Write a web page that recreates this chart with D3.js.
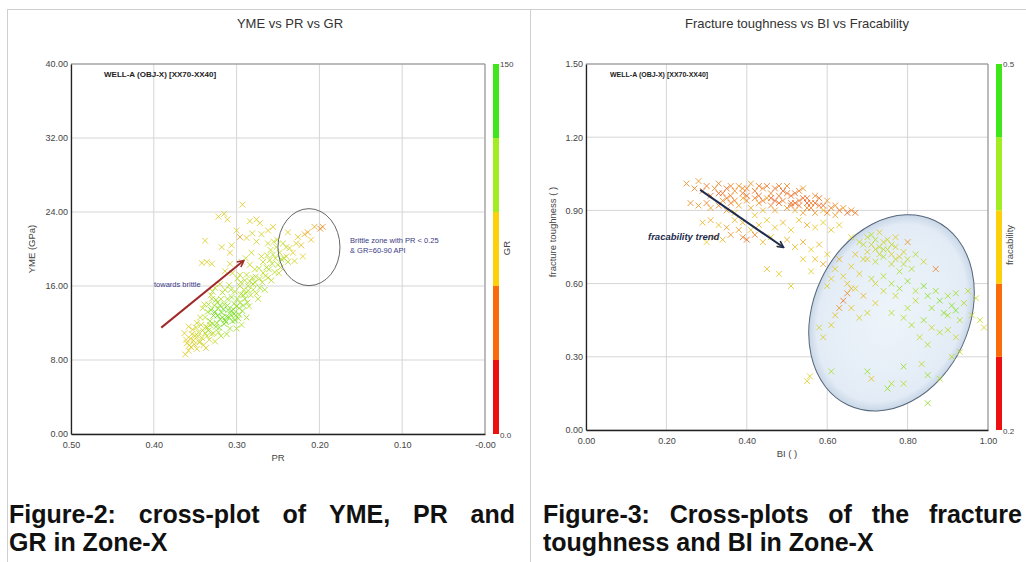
<!DOCTYPE html>
<html>
<head>
<meta charset="utf-8">
<script src="https://cdn.jsdelivr.net/npm/d3@7"></script>
<style>
body { margin: 0; background: #fff; }
text { font-family: "Liberation Sans", Arial, sans-serif; }
.tick text { fill: #444; font-size: 9px; }
.cap { font-size: 25px; font-weight: bold; fill: #111; }
</style>
</head>
<body>
<div id="chart"></div>
<script>
// ---------- data: YME vs PR vs GR  ([PR, YME, GR]) ----------
var grTailPts = [[0.362,8.6,78],[0.358,9.0,80],[0.355,9.4,76],[0.360,9.8,82],[0.352,10.1,84],[0.348,9.2,79],[0.345,9.9,88],[0.350,10.6,86],[0.356,10.3,74],[0.342,10.4,90],[0.340,9.6,85],[0.346,11.0,92],[0.338,10.9,95],[0.353,11.3,83],[0.335,11.5,100],[0.343,11.8,96],[0.348,12.0,88],[0.333,10.2,93],[0.330,10.8,98],[0.363,10.9,77],[0.358,11.6,81],[0.337,9.3,86],[0.326,10.0,97],
  [0.357,9.6,84],[0.351,9.7,80],[0.347,10.6,94],[0.341,11.2,98],[0.354,10.8,88],[0.349,11.5,92],[0.336,10.6,104],[0.332,11.8,106],[0.344,10.0,92],[0.361,10.2,76]];
var grCorePts = [[0.332,12.2,125],[0.328,12.8,130],[0.325,11.6,128],[0.320,12.4,135],[0.318,13.1,132],[0.315,11.9,126],[0.312,12.7,138],[0.322,13.6,122],[0.310,13.4,136],[0.308,11.4,120],[0.305,12.2,130],[0.303,13.0,134],[0.300,13.8,128],[0.298,12.5,125],[0.296,14.2,118],[0.315,14.0,120],[0.327,13.9,115],[0.335,13.2,118],[0.319,14.6,112],[0.306,14.8,120],[0.293,13.3,128],[0.290,14.6,122],[0.288,12.6,118],[0.300,11.4,115],[0.294,11.8,110],[0.312,10.8,118],[0.322,11.0,112],[0.285,13.8,116],[0.283,15.0,112],[0.302,15.4,110],[0.330,14.6,108],[0.338,12.6,110],[0.341,13.6,104],[0.317,15.3,114],[0.309,16.1,108],[0.326,15.8,102],
  [0.334,11.2,122],[0.329,11.9,118],[0.324,12.0,126],[0.321,11.5,131],[0.317,12.6,128],[0.313,12.1,134],[0.311,13.9,124],[0.307,12.9,127],[0.304,13.5,121],[0.301,12.8,129],[0.297,13.6,117],[0.295,15.1,112],[0.291,15.6,110],[0.287,14.2,115],[0.319,10.6,110],[0.328,10.9,104],[0.337,11.6,100],[0.344,12.6,96],[0.339,14.0,100],[0.331,15.0,98],[0.323,14.2,114],[0.314,15.6,104],
  [0.331,13.4,132],[0.326,13.2,136],[0.323,12.8,138],[0.316,13.5,140],[0.314,12.3,137],[0.309,12.6,133],[0.306,13.3,139],[0.303,14.1,126],[0.299,14.6,122],[0.302,12.3,131],[0.297,12.9,127],[0.292,13.9,124],[0.289,15.2,116],[0.286,16.0,112],[0.320,13.9,128],[0.325,14.5,120],[0.329,15.4,110],[0.334,14.0,114],[0.311,14.6,118],[0.307,15.6,114],[0.295,16.4,106]];
var grUpperPts = [[0.296,16.0,108],[0.290,16.6,112],[0.286,15.5,115],[0.280,16.2,110],[0.276,15.2,104],[0.272,16.8,106],[0.268,17.4,100],[0.278,17.8,98],[0.284,18.3,96],[0.264,18.0,108],[0.260,18.8,102],[0.256,19.4,110],[0.252,20.2,104],[0.248,19.6,96],[0.262,20.6,94],[0.270,19.2,92],[0.274,14.6,112],[0.266,15.6,116],[0.258,16.6,112],[0.254,17.5,108],[0.250,18.3,112],[0.246,18.9,116],[0.244,20.6,106],[0.288,17.2,104],[0.294,18.6,100],[0.282,19.6,92],[0.276,20.8,90],[0.270,21.6,88],[0.292,15.0,118],[0.262,16.9,96],
  [0.284,16.5,108],[0.280,15.6,112],[0.277,17.0,104],[0.273,17.9,106],[0.269,16.4,110],[0.265,17.1,104],[0.261,17.8,112],[0.257,18.4,106],[0.253,19.0,100],[0.249,17.4,98],[0.247,18.0,102],[0.299,16.8,100],[0.305,17.4,96],[0.289,19.0,94],[0.296,17.2,98],[0.308,18.4,90],
  [0.281,16.9,108],[0.278,16.4,116],[0.272,15.8,118],[0.268,18.6,100],[0.259,19.9,98],[0.255,20.8,96],[0.263,19.3,104],[0.240,20.2,98],[0.243,19.0,108],[0.238,18.6,110],[0.251,21.0,94]];
var grScatterPts = [[0.338,20.9,82],[0.342,18.5,86],[0.336,18.6,80],[0.330,18.4,84],[0.322,23.5,78],[0.315,23.8,82],[0.311,23.2,80],[0.293,24.8,76],[0.284,23.0,84],[0.276,23.2,80],[0.272,22.8,86],[0.256,22.4,80],[0.308,19.6,72],[0.296,21.3,55],[0.306,20.4,86],[0.300,22.0,84],[0.288,21.2,80],[0.281,21.7,90],[0.262,22.0,78],[0.314,17.6,90],[0.320,16.2,94],[0.318,20.2,88]];
var grBrittlePts = [[0.240,19.2,88],[0.236,20.1,84],[0.232,19.6,80],[0.228,20.6,78],[0.226,21.3,74],[0.222,20.4,70],[0.218,21.6,66],[0.214,21.8,58],[0.210,21.0,72],[0.206,22.4,62],[0.199,22.2,45],[0.196,22.4,48],[0.230,18.7,90],[0.238,21.8,82],[0.220,19.2,76]];

var prTicks = [0.5, 0.4, 0.3, 0.2, 0.1, 0];
var prTickLabels = ["0.50", "0.40", "0.30", "0.20", "0.10", "-0.00"];
var ymeTicks = [0, 8, 16, 24, 32, 40];
var grBandEdges = [0, 30, 60, 90, 120, 150];

// ---------- data: Fracture toughness vs BI vs Fracability ([BI, FT, frac]) ----------
var fracTopPts = [[0.25,1.01,0.29],[0.28,1.02,0.30],[0.27,0.99,0.28],[0.30,1.00,0.27],[0.32,0.99,0.29],[0.33,1.01,0.28],[0.34,0.97,0.27],[0.35,0.99,0.26],[0.36,0.96,0.28],[0.37,0.98,0.29],[0.38,1.00,0.30],[0.39,0.97,0.27],[0.40,0.99,0.28],[0.41,1.01,0.30],[0.42,0.98,0.27],[0.43,0.96,0.26],[0.44,0.99,0.29],[0.45,1.00,0.27],[0.46,0.97,0.28],[0.47,0.99,0.26],[0.48,0.96,0.27],[0.49,0.98,0.25],[0.50,1.00,0.29],[0.51,0.96,0.26],[0.52,0.97,0.25],[0.53,0.94,0.27],[0.54,0.99,0.30],[0.55,0.95,0.26],[0.56,0.93,0.28],[0.57,0.96,0.29],[0.58,0.92,0.27],[0.60,0.94,0.30],[0.61,0.91,0.28],[0.63,0.90,0.27],[0.65,0.89,0.25],[0.67,0.89,0.26],
  [0.29,0.98,0.27],[0.31,0.96,0.26],[0.33,0.97,0.25],[0.35,0.95,0.27],[0.37,0.94,0.28],[0.40,0.96,0.26],[0.42,0.95,0.28],[0.44,0.94,0.27],[0.46,0.95,0.25],[0.48,1.00,0.28],[0.50,0.97,0.27],[0.52,0.93,0.26],[0.54,0.95,0.25],[0.56,0.91,0.27],[0.58,0.95,0.26],[0.59,0.92,0.25],[0.60,0.89,0.28],[0.55,0.93,0.24],[0.51,0.92,0.25],[0.47,0.94,0.24],[0.43,1.00,0.27],[0.39,0.99,0.29],[0.36,1.00,0.28],[0.53,0.98,0.28],[0.57,0.93,0.25],[0.62,0.92,0.29],[0.64,0.91,0.30],[0.66,0.90,0.29]];
var fracMidPts = [[0.26,0.93,0.29],[0.28,0.92,0.30],[0.30,0.93,0.28],[0.31,0.91,0.31],[0.33,0.92,0.29],[0.35,0.90,0.30],[0.36,0.93,0.28],[0.38,0.92,0.31],[0.40,0.94,0.29],[0.41,0.91,0.32],[0.43,0.93,0.30],[0.44,0.90,0.33],[0.46,0.92,0.28],[0.47,0.90,0.31],[0.48,0.93,0.26],[0.50,0.91,0.30],[0.51,0.93,0.27],[0.52,0.90,0.32],[0.53,0.92,0.26],[0.54,0.89,0.31],[0.55,0.91,0.29],[0.57,0.89,0.30],[0.59,0.90,0.33],[0.62,0.88,0.31],[0.39,0.95,0.32],[0.45,0.95,0.31],[0.49,0.94,0.28],[0.37,0.89,0.33],[0.42,0.88,0.34],[0.34,0.94,0.30]];
var fracBandPts = [[0.29,0.85,0.33],[0.31,0.86,0.32],[0.33,0.84,0.34],[0.35,0.83,0.31],[0.37,0.86,0.33],[0.39,0.85,0.32],[0.41,0.82,0.34],[0.43,0.84,0.33],[0.45,0.86,0.35],[0.47,0.83,0.34],[0.49,0.85,0.33],[0.51,0.82,0.35],[0.53,0.86,0.34],[0.55,0.84,0.32],[0.57,0.83,0.35],[0.59,0.85,0.36],[0.61,0.82,0.34],[0.63,0.84,0.35],[0.32,0.79,0.31],[0.34,0.78,0.33],[0.36,0.80,0.30],[0.39,0.79,0.27],[0.40,0.78,0.26],[0.42,0.80,0.28],[0.44,0.77,0.33],[0.46,0.79,0.34],[0.48,0.76,0.35],[0.50,0.78,0.33],[0.52,0.75,0.34],[0.54,0.77,0.32],[0.56,0.74,0.35],[0.58,0.76,0.33],[0.38,0.82,0.30],[0.30,0.77,0.35]];
var fracSlopePts = [[0.57,0.70,0.34],[0.59,0.68,0.32],[0.60,0.72,0.35],[0.62,0.66,0.36],[0.63,0.70,0.33],[0.64,0.63,0.35],[0.61,0.62,0.36],[0.65,0.60,0.34],[0.66,0.67,0.36],[0.56,0.65,0.36],[0.54,0.70,0.35],[0.48,0.64,0.36],[0.68,0.64,0.35],[0.60,0.59,0.37],[0.66,0.58,0.33],[0.51,0.59,0.36],[0.45,0.66,0.34]];
var fracEllipsePts = [[0.66,0.79,0.37],[0.68,0.77,0.39],[0.70,0.79,0.40],[0.71,0.76,0.38],[0.72,0.78,0.41],[0.73,0.75,0.39],[0.74,0.77,0.37],[0.75,0.74,0.40],[0.76,0.72,0.36],[0.77,0.75,0.38],[0.78,0.71,0.35],[0.79,0.73,0.37],[0.70,0.73,0.36],[0.69,0.70,0.38],[0.72,0.69,0.40],[0.74,0.71,0.42],[0.76,0.68,0.39],[0.80,0.70,0.40],[0.82,0.72,0.41],[0.84,0.69,0.38],[0.81,0.66,0.42],[0.78,0.65,0.43],[0.67,0.72,0.34],[0.73,0.81,0.36],[0.77,0.79,0.35],[0.80,0.77,0.30],[0.87,0.66,0.28],[0.65,0.56,0.29],[0.64,0.53,0.27],[0.71,0.62,0.40],[0.74,0.63,0.42],
  [0.69,0.76,0.40],[0.71,0.80,0.41],[0.72,0.74,0.39],[0.74,0.74,0.41],[0.75,0.78,0.38],[0.76,0.76,0.40],[0.73,0.72,0.38],[0.70,0.70,0.36],[0.77,0.70,0.39],[0.79,0.68,0.41]];
var fracGreenPts = [[0.76,0.60,0.43],[0.78,0.58,0.44],[0.80,0.61,0.45],[0.82,0.57,0.42],[0.84,0.59,0.46],[0.85,0.55,0.45],[0.87,0.57,0.44],[0.88,0.53,0.46],[0.90,0.55,0.43],[0.91,0.51,0.45],[0.92,0.56,0.44],[0.94,0.52,0.42],[0.95,0.57,0.41],[0.97,0.54,0.40],[0.86,0.50,0.44],[0.89,0.48,0.45],[0.90,0.47,0.43],[0.92,0.49,0.46],[0.93,0.45,0.42],[0.96,0.47,0.40],[0.98,0.45,0.41],[0.99,0.42,0.38],[0.80,0.50,0.42],[0.82,0.53,0.40],[0.79,0.46,0.41],[0.81,0.43,0.43],[0.84,0.45,0.44],[0.86,0.42,0.39],[0.88,0.40,0.41],[0.83,0.38,0.40],[0.76,0.48,0.42],[0.70,0.48,0.38],[0.68,0.46,0.37],[0.72,0.52,0.36],[0.66,0.50,0.35],[0.62,0.47,0.34],[0.61,0.43,0.36],[0.63,0.50,0.30],[0.58,0.42,0.38],[0.59,0.38,0.37],[0.90,0.41,0.40],[0.92,0.38,0.39],[0.85,0.35,0.42],[0.93,0.32,0.40],[0.77,0.55,0.38],[0.74,0.57,0.39],[0.69,0.55,0.33],[0.67,0.58,0.36],[0.72,0.60,0.37]];
var fracSparsePts = [[0.61,0.24,0.43],[0.70,0.24,0.44],[0.71,0.21,0.34],[0.75,0.17,0.45],[0.76,0.19,0.42],[0.79,0.26,0.44],[0.79,0.19,0.40],[0.835,0.27,0.40],[0.85,0.225,0.44],[0.85,0.11,0.45],[0.88,0.21,0.42],[0.55,0.20,0.36],[0.557,0.22,0.37],[0.91,0.30,0.41]];

var biTicks = [0, 0.2, 0.4, 0.6, 0.8, 1.0];
var ftTicks = [0, 0.3, 0.6, 0.9, 1.2, 1.5];
var fracBandEdges = [0.2, 0.26, 0.32, 0.38, 0.44, 0.5];

var bandColors = ["#ec1010", "#fa6c0a", "#fcd10c", "#a2ec22", "#3fe61a"];
var markColors = ["#d8281a", "#ec7418", "#e6c81c", "#a8e01e", "#46dc14"];

var svg = d3.select("#chart").append("svg")
    .attr("width", 1026)
    .attr("height", 562);

// page frame lines
svg.append("line").attr("x1", 7).attr("x2", 1026).attr("y1", 9.5).attr("y2", 9.5).attr("stroke", "#cfcfcf");
svg.append("line").attr("x1", 7.5).attr("x2", 7.5).attr("y1", 9).attr("y2", 562).attr("stroke", "#cfcfcf");
svg.append("line").attr("x1", 530.5).attr("x2", 530.5).attr("y1", 9).attr("y2", 562).attr("stroke", "#cfcfcf");

function drawPanel(p) {
    var x = d3.scaleLinear().domain(p.xDomain).range([p.left, p.right]);
    var y = d3.scaleLinear().domain(p.yDomain).range([p.bottom, p.top]);
    var g = svg.append("g");

    // grid
    g.append("g").selectAll("line").data(p.xTicks).enter().append("line")
        .attr("x1", function(d) { return x(d); }).attr("x2", function(d) { return x(d); })
        .attr("y1", p.top).attr("y2", p.bottom)
        .attr("stroke", "#d5d5d5");
    g.append("g").selectAll("line").data(p.yTicks).enter().append("line")
        .attr("x1", p.left).attr("x2", p.right)
        .attr("y1", function(d) { return y(d); }).attr("y2", function(d) { return y(d); })
        .attr("stroke", "#d5d5d5");

    // top / right frame
    g.append("path")
        .attr("d", "M" + p.left + "," + p.top + "H" + p.right + "V" + p.bottom)
        .attr("fill", "none").attr("stroke", "#8c8c8c");

    // title
    g.append("text").attr("x", p.titleX).attr("y", 28)
        .attr("text-anchor", "middle").attr("font-size", 13).attr("fill", "#333")
        .text(p.title);

    // axes
    var xAxis = g.append("g").attr("transform", "translate(0," + p.bottom + ")")
        .call(d3.axisBottom(x).tickValues(p.xTicks).tickSize(0).tickPadding(8)
            .tickFormat(function(d, i) { return p.xLabels[i]; }));
    var yAxis = g.append("g").attr("transform", "translate(" + p.left + ",0)")
        .call(d3.axisLeft(y).tickValues(p.yTicks).tickSize(0).tickPadding(3)
            .tickFormat(d3.format(".2f")));
    xAxis.select(".domain").attr("stroke", "#222").attr("stroke-width", 1.3);
    yAxis.select(".domain").attr("stroke", "#222").attr("stroke-width", 1.3);
    xAxis.selectAll("text").attr("font-family", "Liberation Sans, Arial, sans-serif");
    yAxis.selectAll("text").attr("font-family", "Liberation Sans, Arial, sans-serif");

    // axis titles
    g.append("text").attr("x", (p.left + p.right) / 2).attr("y", p.bottom + 27)
        .attr("text-anchor", "middle").attr("font-size", 9.5).attr("fill", "#444")
        .text(p.xTitle);
    g.append("text")
        .attr("transform", "translate(" + p.yTitleX + "," + p.yTitleY + ") rotate(-90)")
        .attr("text-anchor", "middle").attr("font-size", 9.5).attr("fill", "#444")
        .text(p.yTitle);

    // colour bar
    var cb = d3.scaleLinear().domain([p.bands[0], p.bands[p.bands.length - 1]]).range([p.bottom, p.top]);
    g.append("g").selectAll("rect").data(p.bands.slice(0, -1)).enter().append("rect")
        .attr("x", p.cbX).attr("width", 6)
        .attr("y", function(d, i) { return cb(p.bands[i + 1]); })
        .attr("height", function(d, i) { return cb(d) - cb(p.bands[i + 1]); })
        .attr("fill", function(d, i) { return bandColors[i]; });
    g.append("text").attr("x", p.cbX + 7).attr("y", p.top + 3).attr("font-size", 8).attr("fill", "#444").text(p.cbTop);
    g.append("text").attr("x", p.cbX + 7).attr("y", p.bottom + 4).attr("font-size", 8).attr("fill", "#444").text(p.cbBottom);
    g.append("text")
        .attr("transform", "translate(" + (p.cbX + 17) + "," + p.cbTitleY + ") rotate(-90)")
        .attr("text-anchor", "middle").attr("font-size", 9.5).attr("fill", "#444")
        .text(p.cbTitle);

    // well label
    g.append("text").attr("x", p.wellX).attr("y", p.top + 13)
        .attr("font-size", p.wellSize).attr("font-weight", "bold").attr("fill", "#222")
        .text("WELL-A (OBJ-X) [XX70-XX40]");

    return { g: g, x: x, y: y };
}

function drawMarks(panel, pts, colorScale) {
    panel.g.append("g").selectAll("path").data(pts).enter().append("path")
        .attr("d", d3.symbol().type(d3.symbolX).size(24))
        .attr("transform", function(d) { return "translate(" + panel.x(d[0]) + "," + panel.y(d[1]) + ")"; })
        .attr("fill", "none")
        .attr("stroke", function(d) { return colorScale(d[2]); })
        .attr("stroke-width", 1)
        .attr("opacity", 0.8);
}

function arrow(panel, x0, y0, x1, y1, color, width, id) {
    svg.append("defs").append("marker")
        .attr("id", id).attr("viewBox", "0 0 10 10").attr("refX", 8).attr("refY", 5)
        .attr("markerWidth", 4).attr("markerHeight", 4).attr("orient", "auto")
        .append("path").attr("d", "M1,1 L9,5 L1,9").attr("fill", "none")
        .attr("stroke", color).attr("stroke-width", 2);
    panel.g.append("line")
        .attr("x1", panel.x(x0)).attr("y1", panel.y(y0))
        .attr("x2", panel.x(x1)).attr("y2", panel.y(y1))
        .attr("stroke", color).attr("stroke-width", width)
        .attr("marker-end", "url(#" + id + ")");
}

// ---------- left panel ----------
var left = drawPanel({
    left: 71, right: 485, top: 64, bottom: 434,
    xDomain: [0.5, 0], yDomain: [0, 40],
    xTicks: prTicks, xLabels: prTickLabels, yTicks: ymeTicks,
    title: "YME vs PR vs GR", titleX: 290,
    xTitle: "PR", yTitle: "YME (GPa)", yTitleX: 35, yTitleY: 249,
    bands: grBandEdges, cbX: 493, cbTop: "150", cbBottom: "0.0", cbTitle: "GR", cbTitleY: 248,
    wellX: 104, wellSize: 8
});
var grColor = d3.scaleLinear().domain([0, 37.5, 75, 112.5, 150]).range(markColors);
[grTailPts, grCorePts, grUpperPts, grScatterPts, grBrittlePts].forEach(function(pts) {
    drawMarks(left, pts, grColor);
});

left.g.append("ellipse")
    .attr("cx", left.x(0.2126)).attr("cy", left.y(20.2))
    .attr("rx", 31).attr("ry", 38.5)
    .attr("fill", "none").attr("stroke", "#555").attr("stroke-width", 0.9);
left.g.append("text").attr("x", 350).attr("y", 243).attr("font-size", 7.5).attr("fill", "#3a3a86")
    .text("Brittle zone with PR < 0.25");
left.g.append("text").attr("x", 350).attr("y", 253).attr("font-size", 7.5).attr("fill", "#3a3a86")
    .text("& GR=60-90 API");
left.g.append("text").attr("x", 154).attr("y", 287).attr("font-size", 7.5).attr("fill", "#3a3a86")
    .text("towards brittle");
arrow(left, 0.391, 11.5, 0.292, 18.7, "#a02a2a", 2, "arrRed");

// ---------- right panel ----------
var right = drawPanel({
    left: 586, right: 988, top: 64, bottom: 430,
    xDomain: [0, 1], yDomain: [0, 1.5],
    xTicks: biTicks, xLabels: biTicks.map(d3.format(".2f")), yTicks: ftTicks,
    title: "Fracture toughness vs BI vs Fracability", titleX: 797,
    xTitle: "BI ( )", yTitle: "fracture toughness ( )", yTitleX: 556, yTitleY: 232,
    bands: fracBandEdges, cbX: 996, cbTop: "0.5", cbBottom: "0.2", cbTitle: "fracability", cbTitleY: 245,
    wellX: 610, wellSize: 7
});

var grad = svg.append("defs").append("radialGradient").attr("id", "ellFill");
grad.append("stop").attr("offset", "0%").attr("stop-color", "#eef4fa");
grad.append("stop").attr("offset", "90%").attr("stop-color", "#e3ecf6");
grad.append("stop").attr("offset", "100%").attr("stop-color", "#c8d6e6");
right.g.append("ellipse")
    .attr("transform", "translate(" + right.x(0.76) + "," + right.y(0.48) + ") rotate(25)")
    .attr("rx", 78).attr("ry", 102)
    .attr("fill", "url(#ellFill)").attr("stroke", "#56667a").attr("stroke-width", 1);

var fracColor = d3.scaleLinear().domain([0.2, 0.275, 0.35, 0.425, 0.5]).range(markColors);
[fracTopPts, fracMidPts, fracBandPts, fracSlopePts, fracEllipsePts, fracGreenPts, fracSparsePts].forEach(function(pts) {
    drawMarks(right, pts, fracColor);
});

arrow(right, 0.284, 0.984, 0.49, 0.75, "#1f2d4d", 2, "arrNavy");
right.g.append("text").attr("x", 648).attr("y", 240)
    .attr("font-size", 9.5).attr("font-weight", "bold").attr("font-style", "italic").attr("fill", "#1f2d4d")
    .text("fracability trend");

// ---------- captions (justified first lines) ----------
function justifyLine(x0, x1, yb, words) {
    var nodes = words.map(function(w) {
        return svg.append("text").attr("class", "cap").attr("y", yb).text(w);
    });
    var widths = nodes.map(function(n) { return n.node().getComputedTextLength(); });
    var gap = (x1 - x0 - d3.sum(widths)) / (words.length - 1);
    var cx = x0;
    nodes.forEach(function(n, i) { n.attr("x", cx); cx += widths[i] + gap; });
}
justifyLine(9, 515, 523, ["Figure-2:", "cross-plot", "of", "YME,", "PR", "and"]);
svg.append("text").attr("class", "cap").attr("x", 9).attr("y", 551).text("GR in Zone-X");
justifyLine(543, 1022, 523, ["Figure-3:", "Cross-plots", "of", "the", "fracture"]);
svg.append("text").attr("class", "cap").attr("x", 543).attr("y", 551).text("toughness and BI in Zone-X");
</script>
</body>
</html>
